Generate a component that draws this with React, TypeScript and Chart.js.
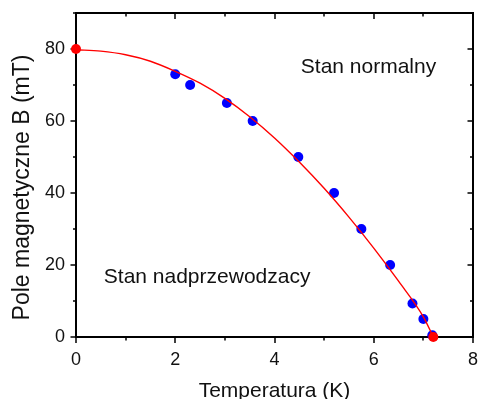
import React, { useEffect, useRef } from 'react';
import { Chart, registerables } from 'chart.js';

Chart.register(...registerables);

// Critical field curve (fit)
const curveT = [0, 0.5, 1, 1.5, 2, 2.5, 3, 3.5, 4, 4.5, 5, 5.5, 6, 6.5, 7, 7.2];
const curveB = [79.8, 79.4, 78.4, 76.6, 73.8, 70.5, 66.3, 61.2, 55.3, 48.6, 41.3, 33.3, 24.7, 15.5, 5.6, 0];

// Measured points (blue)
const measT = [2.0, 2.3, 3.04, 3.56, 4.48, 5.2, 5.75, 6.33, 6.78, 7.0, 7.18];
const measB = [73, 70, 65, 60, 50, 40, 30, 20, 9.3, 5, 0.5];

// End points (red)
const endT = [0, 7.2];
const endB = [80, 0];

const xTicks = [0, 2, 4, 6, 8];
const yTicks = [0, 20, 40, 60, 80];

const xTitle = 'Temperatura (K)';
const yTitle = 'Pole magnetyczne B (mT)';
const labelNormal = 'Stan normalny';
const labelSuper = 'Stan nadprzewodzacy';

const FONT = "'Liberation Sans', Arial, sans-serif";

export default function App() {
  const ref = useRef<HTMLCanvasElement>(null);

  useEffect(() => {
    document.body.style.margin = '0';
    const canvas = ref.current!;

    const framePlugin = {
      id: 'frameTicks',
      beforeDatasetsDraw(chart: any) {
        const { ctx, chartArea: a, scales } = chart;
        const x = scales.x;
        const y = scales.y;
        const L0 = Math.round(a.left);
        const R0 = Math.round(a.right);
        const T0 = Math.round(a.top);
        const B0 = Math.round(a.bottom);
        ctx.save();
        ctx.fillStyle = '#000';
        // frame as filled bars (2px)
        ctx.fillRect(L0 - 1, T0 - 1, R0 - L0 + 2, 2);
        ctx.fillRect(L0 - 1, B0 - 1, R0 - L0 + 2, 2);
        ctx.fillRect(L0 - 1, T0 - 1, 2, B0 - T0 + 2);
        ctx.fillRect(R0 - 1, T0 - 1, 2, B0 - T0 + 2);
        ctx.strokeStyle = '#000';
        ctx.lineWidth = 1.5;
        ctx.beginPath();
        for (let v = 0; v <= 8; v++) {
          const px = Math.round(x.getPixelForValue(v));
          const L = v % 2 === 0 ? 6 : 3.5;
          ctx.moveTo(px, B0);
          ctx.lineTo(px, B0 + L);
          ctx.moveTo(px, T0);
          ctx.lineTo(px, T0 + L);
        }
        for (let v = 0; v <= 90; v += 10) {
          const py = Math.round(y.getPixelForValue(v));
          const L = v % 20 === 0 ? 5.5 : 3;
          ctx.moveTo(L0, py);
          ctx.lineTo(L0 - L, py);
          ctx.moveTo(R0, py);
          ctx.lineTo(R0 - L, py);
        }
        ctx.stroke();
        ctx.restore();
      },
      afterDraw(chart: any) {
        const { ctx, chartArea: a, scales } = chart;
        const x = scales.x;
        const y = scales.y;
        ctx.save();
        ctx.fillStyle = '#111';
        ctx.textBaseline = 'alphabetic';
        // x title
        ctx.font = `21px ${FONT}`;
        ctx.textAlign = 'center';
        ctx.fillText(xTitle, (a.left + a.right) / 2, 396.5);
        // y title
        ctx.save();
        ctx.font = `23px ${FONT}`;
        ctx.translate(28.5, 187.5);
        ctx.rotate(-Math.PI / 2);
        ctx.fillText(yTitle, 0, 0);
        ctx.restore();
        // annotations
        ctx.font = `21px ${FONT}`;
        ctx.textAlign = 'left';
        ctx.fillText(labelNormal, x.getPixelForValue(4.53), y.getPixelForValue(73.2));
        ctx.fillText(labelSuper, x.getPixelForValue(0.56), y.getPixelForValue(15.1));
        ctx.restore();
      },
    };

    const chart = new Chart(canvas, {
      type: 'scatter',
      data: {
        datasets: [
          {
            label: 'end',
            data: endT.map((t, i) => ({ x: t, y: endB[i] })),
            backgroundColor: '#ff0000',
            borderColor: '#ff0000',
            pointRadius: 5,
            pointBorderWidth: 0,
            showLine: false,
            clip: false as any,
          },
          {
            label: 'fit',
            data: curveT.map((t, i) => ({ x: t, y: curveB[i] })),
            borderColor: '#ff0000',
            backgroundColor: '#ff0000',
            borderWidth: 1.4,
            pointRadius: 0,
            showLine: true,
            tension: 0.4,
            cubicInterpolationMode: 'monotone',
            clip: false as any,
          },
          {
            label: 'meas',
            data: measT.map((t, i) => ({ x: t, y: measB[i] })),
            backgroundColor: '#0000ff',
            borderColor: '#0000ff',
            pointRadius: 5,
            pointBorderWidth: 0,
            showLine: false,
            clip: false as any,
          },
        ],
      },
      options: {
        responsive: false,
        animation: false,
        devicePixelRatio: 1,
        layout: { padding: { top: 13, right: 4, left: 0, bottom: 0 } },
        plugins: { legend: { display: false }, tooltip: { enabled: false } },
        scales: {
          x: {
            type: 'linear',
            min: 0,
            max: 8,
            afterBuildTicks: (s: any) => {
              s.ticks = xTicks.map((v) => ({ value: v }));
            },
            afterFit: (s: any) => {
              s.height = 62;
              s.paddingLeft = 0;
              s.paddingRight = 0;
              s.paddingTop = 0;
              s.paddingBottom = 0;
            },
            grid: { display: false, drawTicks: false },
            border: { display: false },
            ticks: {
              color: '#111',
              font: { family: FONT, size: 18 },
              padding: 12,
              maxRotation: 0,
            },
          },
          y: {
            type: 'linear',
            min: 0,
            max: 90,
            afterBuildTicks: (s: any) => {
              s.ticks = yTicks.map((v) => ({ value: v }));
            },
            afterFit: (s: any) => {
              s.width = 76;
              s.paddingLeft = 0;
              s.paddingRight = 0;
              s.paddingTop = 0;
              s.paddingBottom = 0;
            },
            grid: { display: false, drawTicks: false },
            border: { display: false },
            ticks: {
              color: '#111',
              font: { family: FONT, size: 18 },
              padding: 11,
            },
          },
        },
      },
      plugins: [framePlugin],
    } as any);

    return () => chart.destroy();
  }, []);

  return (
    <canvas
      ref={ref}
      width={478}
      height={399}
      style={{ display: 'block', width: 478, height: 399 }}
    />
  );
}
